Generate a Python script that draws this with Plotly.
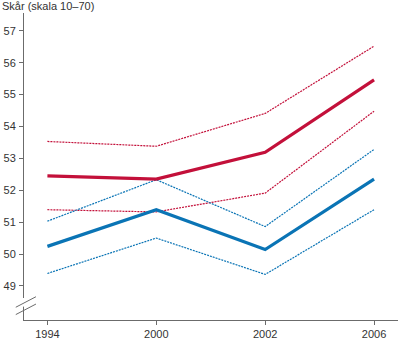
import plotly.graph_objects as go

years = ["1994", "2000", "2002", "2006"]
red_mid = [52.45, 52.35, 53.19, 55.46]
red_hi = [53.53, 53.38, 54.41, 56.52]
red_lo = [51.39, 51.32, 51.91, 54.48]
blue_mid = [50.24, 51.39, 50.14, 52.35]
blue_hi = [51.03, 52.33, 50.86, 53.28]
blue_lo = [49.39, 50.50, 49.36, 51.39]
y_ticks = [49, 50, 51, 52, 53, 54, 55, 56, 57]
title_text = "Skår (skala 10–70)"

RED = "#c3103a"
BLUE = "#0a74b5"
AX = "#6b6b6b"
TXT = "#333333"

fig = go.Figure()
for vals, col, w, dash in [
    (red_hi, RED, 1.2, "2px,1px"),
    (red_lo, RED, 1.2, "2px,1px"),
    (blue_hi, BLUE, 1.2, "2px,1px"),
    (blue_lo, BLUE, 1.2, "2px,1px"),
    (blue_mid, BLUE, 3.2, "solid"),
    (red_mid, RED, 3.2, "solid"),
]:
    fig.add_trace(go.Scatter(x=years, y=vals, mode="lines",
                             line=dict(color=col, width=w, dash=dash),
                             showlegend=False, hoverinfo="skip"))

font = dict(family="Liberation Sans, Arial, sans-serif", size=11, color=TXT)

fig.update_layout(
    width=400, height=342,
    margin=dict(l=24, r=2, t=13, b=17),
    plot_bgcolor="white", paper_bgcolor="white",
    font=font,
    xaxis=dict(type="category", range=[-0.215, 3.22], showgrid=False,
               showline=True, linecolor=AX, linewidth=1,
               ticks="outside", ticklen=4, tickcolor=AX, tickwidth=1,
               tickfont=font, zeroline=False),
    yaxis=dict(range=[47.93, 57.56], tickvals=y_ticks, showgrid=False,
               showline=True, linecolor=AX, linewidth=1,
               ticks="outside", ticklen=4, tickcolor=AX, tickwidth=1,
               tickfont=font, zeroline=False, ticklabelstandoff=1),
    annotations=[dict(text=title_text, xref="paper", yref="paper",
                      x=0, y=1, xshift=-24, yshift=15, xanchor="left", yanchor="top",
                      showarrow=False, font=dict(family="Liberation Sans, Arial, sans-serif",
                                                 size=11, color=TXT))],
    shapes=[
        # gap in axis for break
        dict(type="line", xref="paper", yref="y", x0=0, x1=0, y0=48.35, y1=48.62,
             line=dict(color="white", width=4)),
        dict(type="line", xref="paper", yref="y", x0=-0.022, x1=0.032, y0=48.33, y1=48.66,
             line=dict(color=AX, width=1)),
        dict(type="line", xref="paper", yref="y", x0=-0.022, x1=0.032, y0=48.10, y1=48.43,
             line=dict(color=AX, width=1)),
    ],
)
fig.write_html("out.html")
